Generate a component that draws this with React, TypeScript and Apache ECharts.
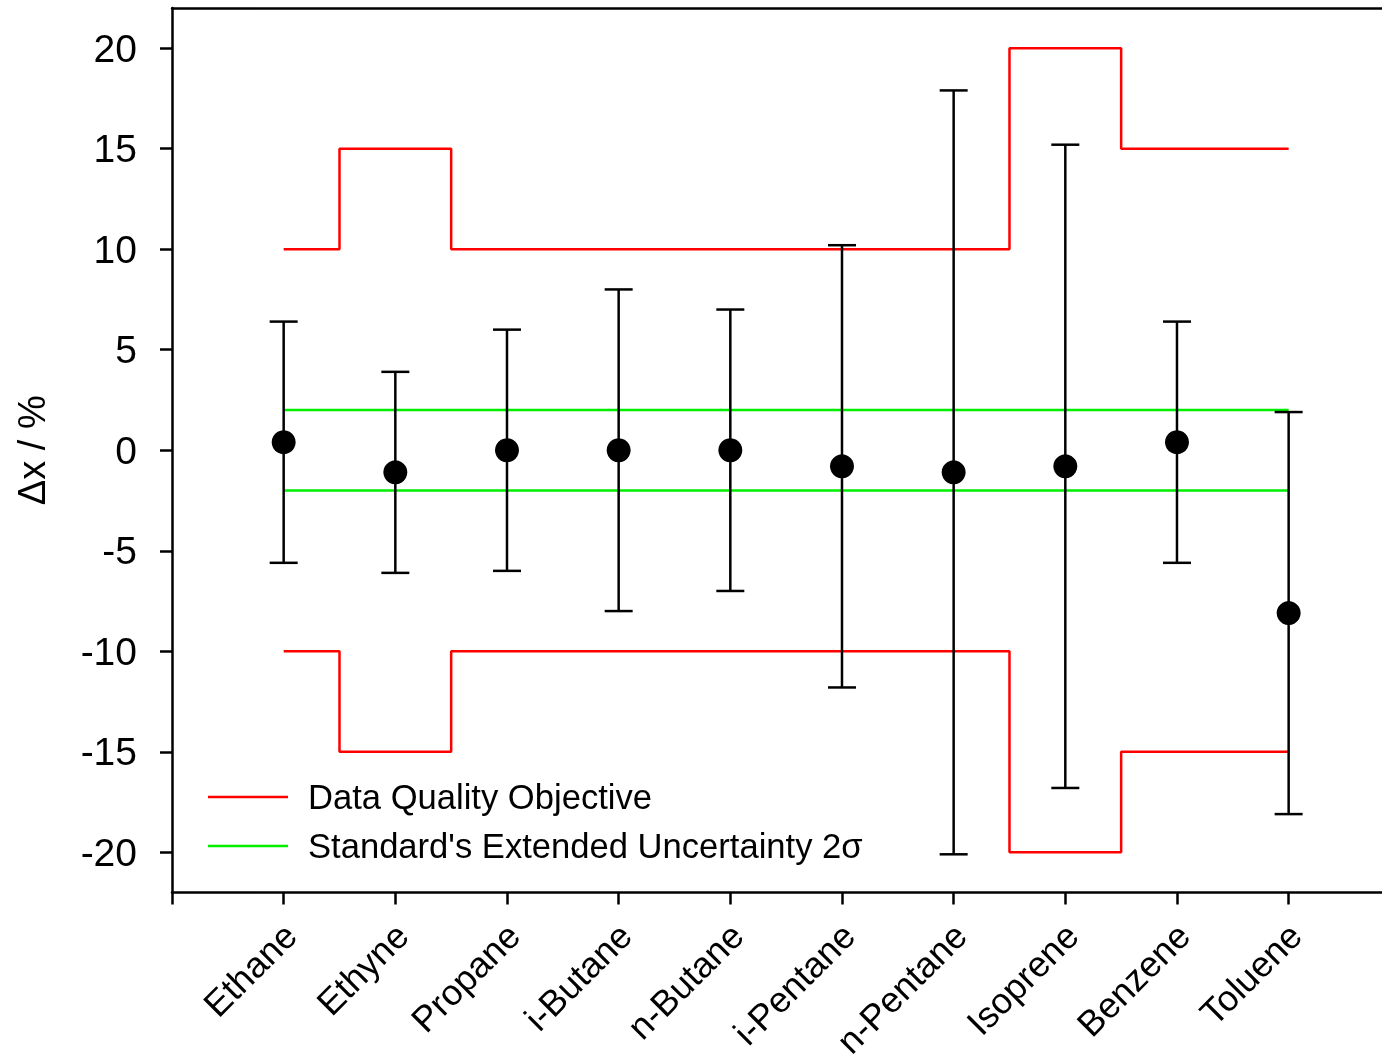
import React, { useEffect, useRef } from "react";
import * as echarts from "echarts";

const categories = ["Ethane", "Ethyne", "Propane", "i-Butane", "n-Butane", "i-Pentane", "n-Pentane", "Isoprene", "Benzene", "Toluene"];
const deltaX = [0.4, -1.1, 0, 0, 0, -0.8, -1.1, -0.8, 0.4, -8.1];
const expandedUncertainty = [6, 5, 6, 8, 7, 11, 19, 16, 6, 10];
const dataQualityObjective = [10, 15, 10, 10, 10, 10, 10, 20, 15, 15];
const standardUncertainty = [2, 2, 2, 2, 2, 2, 2, 2, 2, 2];
const yTicks = [-20, -15, -10, -5, 0, 5, 10, 15, 20];
const xTicks = [0, 1, 2, 3, 4, 5, 6, 7, 8, 9, 10];
const xLabelPositions = [1, 2, 3, 4, 5, 6, 7, 8, 9, 10];

const FONT = "Liberation Sans, Arial, sans-serif";
// visible part of the x range (the frame's right side lies beyond the picture)
const X_MAX = 10.836;
const LABEL_NUDGE = 0.06;

export default function App() {
  const ref = useRef<HTMLDivElement>(null);
  useEffect(() => {
    if (!ref.current) return;
    const chart = echarts.init(ref.current, null, { renderer: "svg" });
    const pos = categories.map((_, i) => i + 1);
    const upperDQO = pos.map((x, i) => [x, dataQualityObjective[i]]);
    const lowerDQO = pos.map((x, i) => [x, -dataQualityObjective[i]]);
    const upperStd = pos.map((x, i) => [x, standardUncertainty[i]]);
    const lowerStd = pos.map((x, i) => [x, -standardUncertainty[i]]);
    const points = pos.map((x, i) => [x, deltaX[i]]);
    const errData = pos.map((x, i) => [x, deltaX[i] - expandedUncertainty[i], deltaX[i] + expandedUncertainty[i]]);

    const redLine = { color: "#ff0000", width: 2.5 };
    const greenLine = { color: "#00ee00", width: 2.5 };
    const axisLineStyle = { color: "#000", width: 2.5 };

    chart.setOption({
      animation: false,
      grid: {
        left: 172,
        top: 8,
        bottom: 171.5,
        right: 0,
        show: false,
        containLabel: false,
        outerBoundsMode: "none",
      },
      xAxis: [
        {
          type: "value",
          min: 0,
          max: X_MAX,
          interval: 1,
          splitLine: { show: false },
          axisLine: { onZero: false, lineStyle: axisLineStyle },
          axisTick: { show: true, length: 12, customValues: xTicks, lineStyle: axisLineStyle },
          axisLabel: {
            customValues: xLabelPositions.map((v) => v + LABEL_NUDGE),
            rotate: 45,
            margin: 37,
            color: "#000",
            fontSize: 36,
            fontFamily: FONT,
            formatter: (v: number) => categories[Math.round(v) - 1] ?? "",
          },
        },
        {
          type: "value",
          position: "top",
          min: 0,
          max: X_MAX,
          splitLine: { show: false },
          axisLine: { show: true, onZero: false, lineStyle: axisLineStyle },
          axisTick: { show: false },
          axisLabel: { show: false },
        },
      ],
      yAxis: {
        type: "value",
        min: -22,
        max: 22,
        name: "Δx / %",
        nameLocation: "middle",
        nameGap: 121,
        nameTextStyle: { color: "#000", fontSize: 38, fontFamily: FONT },
        splitLine: { show: false },
        axisLine: { onZero: false, lineStyle: axisLineStyle },
        axisTick: { show: true, length: 12, customValues: yTicks, lineStyle: axisLineStyle },
        axisLabel: {
          customValues: yTicks,
          margin: 35,
          color: "#000",
          fontSize: 39,
          fontFamily: FONT,
        },
      },
      graphic: [
        { type: "line", shape: { x1: 208, y1: 797, x2: 288, y2: 797 }, style: { stroke: "#ff0000", lineWidth: 2.5 } },
        { type: "text", x: 308, y: 797, style: { text: "Data Quality Objective", fill: "#000", font: `34.6px ${FONT}`, verticalAlign: "middle" } },
        { type: "line", shape: { x1: 208, y1: 846, x2: 288, y2: 846 }, style: { stroke: "#00ee00", lineWidth: 2.5 } },
        { type: "text", x: 308, y: 846, style: { text: "Standard's Extended Uncertainty 2σ", fill: "#000", font: `34.6px ${FONT}`, verticalAlign: "middle" } },
      ],
      series: [
        { name: "Data Quality Objective", type: "line", step: "middle", data: upperDQO, showSymbol: false, lineStyle: redLine, z: 2 },
        { name: "Data Quality Objective", type: "line", step: "middle", data: lowerDQO, showSymbol: false, lineStyle: redLine, z: 2 },
        { name: "Standard's Extended Uncertainty 2σ", type: "line", data: upperStd, showSymbol: false, lineStyle: greenLine, z: 2 },
        { name: "Standard's Extended Uncertainty 2σ", type: "line", data: lowerStd, showSymbol: false, lineStyle: greenLine, z: 2 },
        {
          type: "custom",
          data: errData,
          z: 3,
          renderItem: (params: any, api: any) => {
            const x = api.value(0);
            const lo = api.coord([x, api.value(1)]);
            const hi = api.coord([x, api.value(2)]);
            const half = 14;
            const style = { stroke: "#000", lineWidth: 2.5 };
            return {
              type: "group",
              children: [
                { type: "line", shape: { x1: lo[0], y1: lo[1], x2: hi[0], y2: hi[1] }, style },
                { type: "line", shape: { x1: lo[0] - half, y1: lo[1], x2: lo[0] + half, y2: lo[1] }, style },
                { type: "line", shape: { x1: hi[0] - half, y1: hi[1], x2: hi[0] + half, y2: hi[1] }, style },
              ],
            };
          },
        },
        {
          type: "scatter",
          data: points,
          symbol: "circle",
          symbolSize: 24,
          itemStyle: { color: "#000", opacity: 1 },
          z: 4,
        },
      ],
    });
    return () => chart.dispose();
  }, []);
  return <div ref={ref} style={{ position: "fixed", left: 0, top: 0, width: 1382, height: 1064 }} />;
}
